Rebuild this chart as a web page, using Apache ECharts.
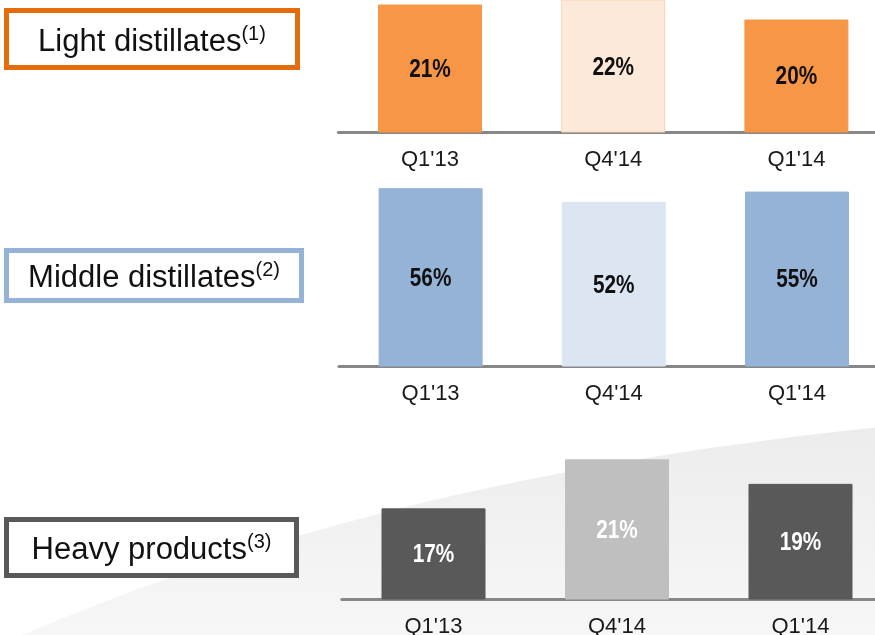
<!DOCTYPE html>
<html>
<head>
<meta charset="utf-8">
<script src="https://cdn.jsdelivr.net/npm/echarts@6/dist/echarts.min.js"></script>
<style>
  html, body { margin: 0; padding: 0; background: #ffffff; overflow: hidden; }
  /* the axes run off the right edge of the page, so the canvas is a little wider */
  #chart { width: 900px; height: 635px; }
</style>
</head>
<body>
<div id="chart"></div>
<script>
// Product yield split by quarter
const categories = ["Q1'13", "Q4'14", "Q1'14"];
const lightValues = [21, 22, 20];
const middleValues = [56, 52, 55];
const heavyValues = [17, 21, 19];
const panelTitles = ['Light distillates', 'Middle distillates', 'Heavy products'];
const footnotes = ['(1)', '(2)', '(3)'];

// Panel layout and styling
const panels = [
  { values: lightValues, grid: { left: 338.4, width: 549.6, top: 0, height: 132 }, min: 12.5, max: 21.3,
    colors: ['#F79646', '#FDE9D9', '#F79646'], borders: ['#F79646', '#FAD3B4', '#F79646'],
    labelColor: '#111111', box: { x: 6.5, y: 10.5, w: 291, h: 57, stroke: '#E46C0A' } },
  { values: middleValues, grid: { left: 339, width: 549.6, top: 150, height: 216 }, min: 4, max: 67.16,
    colors: ['#95B3D7', '#DCE6F2', '#95B3D7'], borders: ['#95B3D7', '#DCE6F2', '#95B3D7'],
    labelColor: '#111111', box: { x: 6.5, y: 250.5, w: 295, h: 50, stroke: '#95B3D7' } },
  { values: heavyValues, grid: { left: 341.75, width: 550.5, top: 440, height: 159 }, min: 9.6, max: 22.58,
    colors: ['#595959', '#BFBFBF', '#595959'], borders: ['#595959', '#BFBFBF', '#595959'],
    labelColor: '#ffffff', box: { x: 6.5, y: 519.5, w: 290, h: 56, stroke: '#595959' } }
];

const baseFont = '"Liberation Sans", Arial, sans-serif';

// Outline of the soft grey swoosh behind the lower panel (sampled cubic curve)
function swooshPoints() {
  const p0 = [10, 640], p1 = [200, 560], p2 = [450, 470], p3 = [900, 425];
  const pts = [];
  for (let k = 0; k <= 40; k++) {
    const t = k / 40, u = 1 - t;
    const a = u * u * u, b = 3 * u * u * t, c = 3 * u * t * t, d = t * t * t;
    pts.push([a * p0[0] + b * p1[0] + c * p2[0] + d * p3[0], a * p0[1] + b * p1[1] + c * p2[1] + d * p3[1]]);
  }
  pts.push([905, 425], [905, 640]);
  return pts;
}

// Condensed bold value label centred in the visible part of each bar
function makeLabelRenderer(panel) {
  return function (params, api) {
    const idx = api.value(0);
    const v = api.value(1);
    const shown = Math.min(v, panel.max);
    const top = api.coord([idx, shown]);
    const base = api.coord([idx, panel.min]);
    return {
      type: 'text',
      x: top[0],
      y: (top[1] + base[1]) / 2 + 1.5,
      scaleX: 0.8,
      style: {
        text: v + '%',
        fill: panel.labelColor,
        font: 'bold 26px "Liberation Sans", Arial, sans-serif',
        align: 'center',
        verticalAlign: 'middle'
      }
    };
  };
}

const grids = [], xAxes = [], yAxes = [], series = [];
const graphics = [
  {
    type: 'polygon', z: -10, silent: true,
    shape: { points: swooshPoints() },
    style: {
      fill: {
        type: 'linear', x: 0, y: 0, x2: 0, y2: 1,
        colorStops: [{ offset: 0, color: '#ececec' }, { offset: 1, color: '#f7f7f7' }]
      }
    }
  }
];

panels.forEach((p, i) => {
  grids.push(Object.assign({ containLabel: false, outerBoundsMode: 'none' }, p.grid));
  xAxes.push({
    type: 'category', gridIndex: i, data: categories,
    axisLine: { show: true, lineStyle: { color: '#878787', width: 3 } },
    axisTick: { show: false },
    axisLabel: { color: '#1a1a1a', fontSize: 22, fontFamily: baseFont, margin: 17 },
    z: 1
  });
  yAxes.push({ type: 'value', gridIndex: i, min: p.min, max: p.max, show: false, splitLine: { show: false } });
  series.push({
    type: 'bar', xAxisIndex: i, yAxisIndex: i, barWidth: 104, z: 3,
    data: p.values.map((v, j) => ({
      value: v,
      itemStyle: { color: p.colors[j], borderColor: p.borders[j], borderWidth: 1 }
    }))
  });
  series.push({
    type: 'custom', xAxisIndex: i, yAxisIndex: i, z: 4, clip: false,
    renderItem: makeLabelRenderer(p),
    data: p.values.map((v, j) => [j, v])
  });

  // boxed product label
  const b = p.box;
  graphics.push({
    type: 'rect', silent: true, z: 5,
    shape: { x: b.x, y: b.y, width: b.w, height: b.h },
    style: { fill: '#ffffff', stroke: b.stroke, lineWidth: 5 }
  });
  graphics.push({
    type: 'text', silent: true, z: 6,
    x: b.x + b.w / 2, y: b.y + b.h / 2 + 3,
    style: {
      text: '{m|' + panelTitles[i] + '}{s|' + footnotes[i] + '}',
      align: 'center', verticalAlign: 'middle',
      rich: {
        m: { fontSize: 31, fontFamily: baseFont, fill: '#111111', lineHeight: 36 },
        s: { fontSize: 20, fontFamily: baseFont, fill: '#111111', verticalAlign: 'top', lineHeight: 36, padding: [0, 0, 12, 0] }
      }
    }
  });
});

const chart = echarts.init(document.getElementById('chart'), null, { renderer: 'canvas', width: 900, height: 635 });
chart.setOption({
  animation: false,
  backgroundColor: '#ffffff',
  grid: grids,
  xAxis: xAxes,
  yAxis: yAxes,
  series: series,
  graphic: graphics
});
</script>
</body>
</html>
